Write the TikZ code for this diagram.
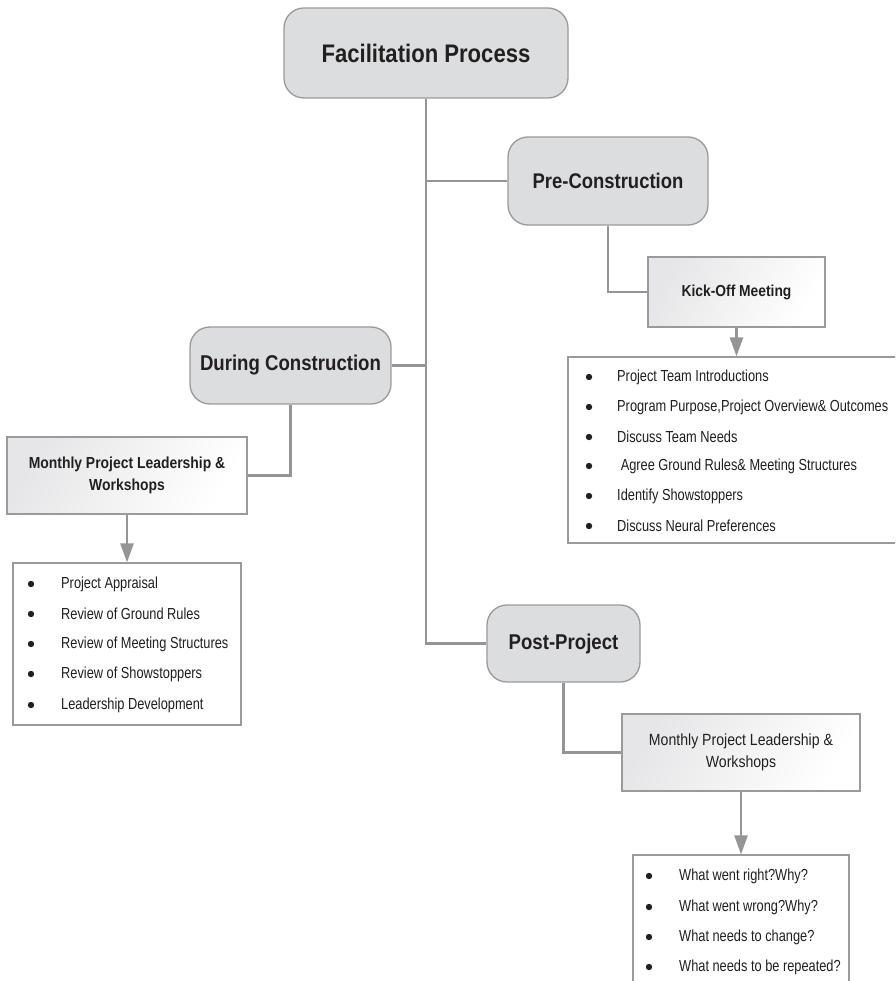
\documentclass[tikz,border=0pt]{standalone}
\usepackage{fontspec}
\setmainfont{Liberation Sans}[FakeStretch=0.87]
\newfontfamily\itemfont{Liberation Sans}[FakeStretch=0.8]
\usetikzlibrary{arrows.meta}

\definecolor{boxgray}{HTML}{DCDDDF}
\definecolor{edgegray}{HTML}{9A9A9C}
\definecolor{linkgray}{HTML}{959597}
\definecolor{inkdark}{HTML}{231F20}
\definecolor{shadegray}{HTML}{E6E6E8}

\tikzset{
  phasebox/.style={rounded corners=20pt, fill=boxgray, draw=edgegray,
    line width=1.3pt, inner sep=0pt, text=inkdark, font=\bfseries},
  stagebox/.style={rectangle, draw=edgegray, line width=1.6pt, inner sep=0pt,
    left color=shadegray, right color=white, shading angle=60,
    text=inkdark, align=center},
  listbox/.style={rectangle, draw=edgegray, line width=1.2pt, fill=white, inner sep=0pt},
  listitem/.style={anchor=west, inner sep=0pt, text=inkdark,
    font=\itemfont\fontsize{16}{19}\selectfont},
  link/.style={draw=linkgray, line width=2.2pt},
  flowarrow/.style={draw=linkgray, line width=2.6pt,
    -{Triangle[width=13pt,length=19pt]}},
}

\newcommand{\listdot}[2]{\fill[inkdark] (#1,#2) circle (3.2pt);}

\begin{document}
\begin{tikzpicture}[x=1pt,y=-1pt]
\useasboundingbox (0,0) rectangle (895,981);
\clip (0,0) rectangle (895,981);

% phase boxes
\node[phasebox, minimum width=284pt, minimum height=90pt,
  font=\bfseries\fontsize{25.4}{30}\selectfont] (fac) at (426,53) {Facilitation Process};
\node[phasebox, minimum width=200pt, minimum height=88pt,
  font=\bfseries\fontsize{21.2}{26}\selectfont] (pre) at (608,181) {Pre-Construction};
\node[phasebox, minimum width=201pt, minimum height=77pt,
  font=\bfseries\fontsize{21.4}{26}\selectfont] (dur) at (290.5,365.5) {During Construction};
\node[phasebox, minimum width=153pt, minimum height=77pt,
  font=\bfseries\fontsize{21.4}{26}\selectfont] (post) at (563.5,643.5) {Post-Project};

% stage boxes
\node[stagebox, minimum width=177pt, minimum height=70pt,
  font=\bfseries\fontsize{15.9}{20}\selectfont] (kick) at (736.5,292) {Kick-Off Meeting};
\node[stagebox, minimum width=240pt, minimum height=77pt,
  font=\bfseries\fontsize{16}{22}\selectfont] (mlead) at (127,475.5)
  {Monthly Project Leadership \&\\Workshops};
\node[stagebox, minimum width=238pt, minimum height=77pt,
  font=\fontsize{16.2}{21.5}\selectfont] (mpost) at (741,752.5)
  {Monthly Project Leadership \&\\Workshops};

% list frames
\node[listbox, minimum width=332pt, minimum height=186pt] (kicklist) at (734,450) {};
\node[listbox, minimum width=228pt, minimum height=162pt] (leadlist) at (127,644) {};
\node[listbox, minimum width=216pt, minimum height=140pt] (postlist) at (741,925) {};

% connectors of the tree
\draw[link] (fac.south) |- (post.west);
\draw[link] (pre.west) -- (pre.west -| fac.south);
\draw[link] (dur.east) -- (dur.east -| fac.south);
\draw[link] (pre.south) |- (kick.west);
\draw[link] (dur.south) |- (mlead.east);
\draw[link] (post.south) |- (mpost.west);

% arrows into the lists
\draw[flowarrow] (kick.south) -- (kick.south |- kicklist.north);
\draw[flowarrow] (mlead.south) -- (mlead.south |- leadlist.north);
\draw[flowarrow] (mpost.south) -- (mpost.south |- postlist.north);

% kick-off meeting items
\foreach \y/\t [count=\i] in {377/Project Team Introductions,
    407/{Program Purpose,Project Overview\& Outcomes},
    437/Discuss Team Needs,
    466/{\ Agree Ground Rules\& Meeting Structures},
    496/Identify Showstoppers,
    526/Discuss Neural Preferences}{
  \listdot{589}{\y}
  \node[listitem] (ka\i) at (617,\y) {\t};
}

% monthly leadership items
\foreach \y/\t [count=\i] in {584/Project Appraisal,
    614/Review of Ground Rules,
    644/Review of Meeting Structures,
    674/Review of Showstoppers,
    705/Leadership Development}{
  \listdot{31}{\y}
  \node[listitem] (la\i) at (61,\y) {\t};
}

% post-project items
\foreach \y/\t [count=\i] in {876/What went right?Why?,
    907/What went wrong?Why?,
    937/What needs to change?,
    967/What needs to be repeated?}{
  \listdot{649}{\y}
  \node[listitem] (pa\i) at (679,\y) {\t};
}
\end{tikzpicture}
\end{document}
